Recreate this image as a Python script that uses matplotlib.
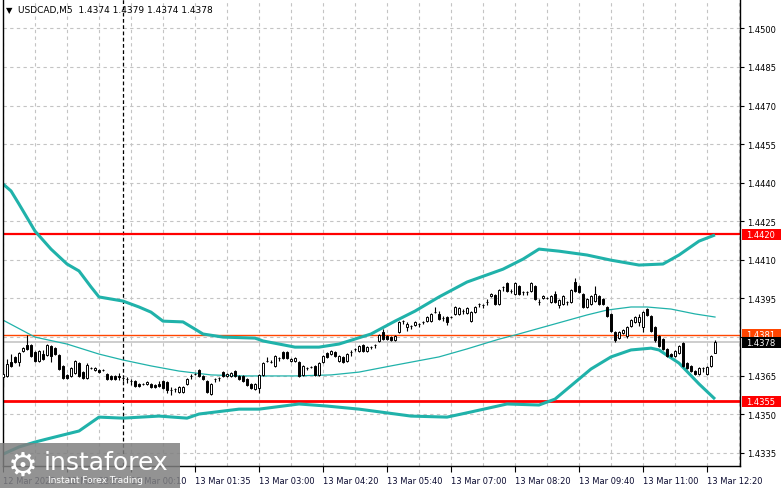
import matplotlib
matplotlib.use("Agg")
import matplotlib.pyplot as plt
from matplotlib.patches import Rectangle
import matplotlib.transforms as mtransforms

symbol = "USDCAD,M5"

opens = [
1.43645, 1.43649, 1.43703, 1.43723, 1.43703, 1.43746, 1.43769, 1.43769, 1.43742, 1.43707,
1.43734, 1.43730, 1.43765, 1.43757, 1.43730, 1.43688, 1.43653, 1.43649, 1.43660, 1.43699,
1.43664, 1.43641, 1.43680, 1.43672, 1.43672, 1.43672, 1.43656, 1.43649, 1.43649, 1.43649,
1.43641, 1.43637, 1.43629, 1.43629, 1.43618, 1.43618, 1.43618, 1.43618, 1.43614, 1.43618,
1.43629, 1.43625, 1.43594, 1.43598, 1.43586, 1.43586, 1.43618, 1.43649, 1.43656, 1.43672,
1.43649, 1.43629, 1.43579, 1.43637, 1.43641, 1.43664, 1.43649, 1.43649, 1.43668, 1.43649,
1.43649, 1.43637, 1.43618, 1.43598, 1.43602, 1.43653, 1.43707, 1.43703, 1.43688, 1.43719,
1.43742, 1.43742, 1.43707, 1.43707, 1.43703, 1.43653, 1.43680, 1.43684, 1.43688, 1.43653,
1.43703, 1.43738, 1.43734, 1.43742, 1.43707, 1.43723, 1.43707, 1.43742, 1.43754, 1.43746,
1.43769, 1.43746, 1.43761, 1.43769, 1.43785, 1.43820, 1.43804, 1.43800, 1.43789, 1.43820,
1.43862, 1.43839, 1.43843, 1.43847, 1.43851, 1.43859, 1.43862, 1.43862, 1.43897, 1.43890,
1.43874, 1.43878, 1.43878, 1.43890, 1.43890, 1.43901, 1.43894, 1.43862, 1.43897, 1.43929,
1.43925, 1.43936, 1.43960, 1.43963, 1.43929, 1.43995, 1.44010, 1.43979, 1.43967, 1.43998,
1.43975, 1.43975, 1.43979, 1.43998, 1.43936, 1.43952, 1.43952, 1.43936, 1.43967, 1.43925,
1.43929, 1.43936, 1.43936, 1.44014, 1.43998, 1.43967, 1.43917, 1.43929, 1.43940, 1.43960,
1.43948, 1.43917, 1.43890, 1.43820, 1.43796, 1.43816, 1.43804, 1.43843, 1.43859, 1.43859,
1.43839, 1.43909, 1.43882, 1.43839, 1.43804, 1.43792, 1.43754, 1.43734, 1.43726, 1.43738,
1.43777, 1.43699, 1.43688, 1.43668, 1.43656, 1.43680, 1.43656, 1.43688, 1.43740]

highs = [
1.43660, 1.43715, 1.43734, 1.43726, 1.43742, 1.43761, 1.43808, 1.43773, 1.43746, 1.43750,
1.43750, 1.43773, 1.43769, 1.43761, 1.43734, 1.43691, 1.43656, 1.43684, 1.43711, 1.43703,
1.43668, 1.43699, 1.43684, 1.43684, 1.43676, 1.43676, 1.43660, 1.43653, 1.43653, 1.43660,
1.43645, 1.43645, 1.43637, 1.43633, 1.43621, 1.43621, 1.43629, 1.43621, 1.43618, 1.43629,
1.43633, 1.43629, 1.43606, 1.43602, 1.43610, 1.43610, 1.43641, 1.43656, 1.43660, 1.43676,
1.43653, 1.43633, 1.43621, 1.43641, 1.43645, 1.43668, 1.43660, 1.43664, 1.43672, 1.43653,
1.43653, 1.43641, 1.43621, 1.43621, 1.43656, 1.43703, 1.43723, 1.43711, 1.43730, 1.43723,
1.43746, 1.43746, 1.43719, 1.43723, 1.43707, 1.43691, 1.43684, 1.43688, 1.43691, 1.43703,
1.43730, 1.43742, 1.43750, 1.43746, 1.43730, 1.43726, 1.43738, 1.43750, 1.43757, 1.43769,
1.43773, 1.43765, 1.43765, 1.43773, 1.43812, 1.43831, 1.43808, 1.43804, 1.43808, 1.43862,
1.43866, 1.43859, 1.43847, 1.43862, 1.43855, 1.43862, 1.43882, 1.43894, 1.43917, 1.43901,
1.43882, 1.43882, 1.43882, 1.43921, 1.43917, 1.43909, 1.43917, 1.43901, 1.43921, 1.43932,
1.43929, 1.43948, 1.43971, 1.43967, 1.43987, 1.43998, 1.44014, 1.43987, 1.44014, 1.44002,
1.43979, 1.43979, 1.44014, 1.44002, 1.43948, 1.43963, 1.43956, 1.43963, 1.43979, 1.43948,
1.43963, 1.43940, 1.43987, 1.44030, 1.44002, 1.43971, 1.43952, 1.43963, 1.43998, 1.43963,
1.43952, 1.43921, 1.43894, 1.43824, 1.43824, 1.43831, 1.43843, 1.43870, 1.43882, 1.43890,
1.43901, 1.43913, 1.43886, 1.43843, 1.43808, 1.43796, 1.43757, 1.43738, 1.43750, 1.43769,
1.43781, 1.43703, 1.43691, 1.43672, 1.43684, 1.43684, 1.43688, 1.43730, 1.43790]

lows = [
1.43606, 1.43645, 1.43684, 1.43699, 1.43688, 1.43742, 1.43750, 1.43723, 1.43703, 1.43703,
1.43711, 1.43726, 1.43703, 1.43730, 1.43672, 1.43637, 1.43637, 1.43645, 1.43656, 1.43645,
1.43637, 1.43637, 1.43676, 1.43668, 1.43660, 1.43668, 1.43633, 1.43633, 1.43633, 1.43633,
1.43629, 1.43621, 1.43614, 1.43606, 1.43606, 1.43614, 1.43614, 1.43602, 1.43602, 1.43606,
1.43598, 1.43583, 1.43575, 1.43586, 1.43583, 1.43583, 1.43614, 1.43637, 1.43653, 1.43645,
1.43633, 1.43583, 1.43575, 1.43625, 1.43629, 1.43645, 1.43645, 1.43645, 1.43645, 1.43633,
1.43625, 1.43610, 1.43598, 1.43594, 1.43583, 1.43649, 1.43703, 1.43699, 1.43684, 1.43707,
1.43715, 1.43715, 1.43703, 1.43703, 1.43645, 1.43649, 1.43672, 1.43680, 1.43649, 1.43649,
1.43699, 1.43719, 1.43730, 1.43723, 1.43703, 1.43699, 1.43703, 1.43726, 1.43746, 1.43742,
1.43742, 1.43742, 1.43754, 1.43757, 1.43781, 1.43789, 1.43789, 1.43785, 1.43785, 1.43816,
1.43851, 1.43824, 1.43831, 1.43843, 1.43839, 1.43851, 1.43859, 1.43859, 1.43894, 1.43866,
1.43862, 1.43847, 1.43874, 1.43886, 1.43886, 1.43890, 1.43890, 1.43859, 1.43894, 1.43917,
1.43913, 1.43925, 1.43956, 1.43925, 1.43925, 1.43979, 1.43975, 1.43971, 1.43963, 1.43963,
1.43963, 1.43963, 1.43975, 1.43944, 1.43925, 1.43948, 1.43948, 1.43932, 1.43932, 1.43913,
1.43925, 1.43925, 1.43932, 1.43975, 1.43971, 1.43913, 1.43913, 1.43925, 1.43936, 1.43925,
1.43925, 1.43878, 1.43820, 1.43781, 1.43792, 1.43812, 1.43796, 1.43839, 1.43855, 1.43843,
1.43820, 1.43882, 1.43820, 1.43781, 1.43761, 1.43750, 1.43723, 1.43723, 1.43723, 1.43734,
1.43684, 1.43676, 1.43664, 1.43653, 1.43653, 1.43664, 1.43653, 1.43684, 1.43740]

closes = [
1.43656, 1.43695, 1.43688, 1.43703, 1.43738, 1.43757, 1.43754, 1.43726, 1.43707, 1.43746,
1.43715, 1.43769, 1.43726, 1.43734, 1.43676, 1.43641, 1.43641, 1.43680, 1.43707, 1.43649,
1.43641, 1.43691, 1.43680, 1.43680, 1.43664, 1.43672, 1.43637, 1.43637, 1.43637, 1.43645,
1.43641, 1.43637, 1.43629, 1.43610, 1.43610, 1.43618, 1.43625, 1.43606, 1.43606, 1.43610,
1.43602, 1.43594, 1.43594, 1.43598, 1.43606, 1.43606, 1.43637, 1.43649, 1.43656, 1.43649,
1.43637, 1.43586, 1.43618, 1.43637, 1.43641, 1.43649, 1.43656, 1.43660, 1.43649, 1.43637,
1.43629, 1.43614, 1.43602, 1.43618, 1.43653, 1.43699, 1.43707, 1.43703, 1.43726, 1.43719,
1.43719, 1.43719, 1.43715, 1.43719, 1.43649, 1.43688, 1.43680, 1.43684, 1.43653, 1.43699,
1.43726, 1.43723, 1.43746, 1.43726, 1.43726, 1.43703, 1.43734, 1.43742, 1.43754, 1.43765,
1.43746, 1.43761, 1.43761, 1.43769, 1.43808, 1.43792, 1.43792, 1.43789, 1.43804, 1.43859,
1.43862, 1.43851, 1.43843, 1.43859, 1.43851, 1.43859, 1.43878, 1.43890, 1.43897, 1.43870,
1.43874, 1.43859, 1.43878, 1.43917, 1.43913, 1.43901, 1.43913, 1.43897, 1.43917, 1.43929,
1.43925, 1.43936, 1.43967, 1.43929, 1.43983, 1.43995, 1.43979, 1.43979, 1.44010, 1.43967,
1.43975, 1.43975, 1.44010, 1.43948, 1.43936, 1.43960, 1.43952, 1.43960, 1.43936, 1.43944,
1.43960, 1.43936, 1.43983, 1.43979, 1.43975, 1.43917, 1.43948, 1.43960, 1.43967, 1.43929,
1.43929, 1.43882, 1.43824, 1.43789, 1.43820, 1.43827, 1.43839, 1.43866, 1.43878, 1.43878,
1.43897, 1.43886, 1.43824, 1.43789, 1.43765, 1.43754, 1.43726, 1.43726, 1.43746, 1.43765,
1.43688, 1.43680, 1.43668, 1.43656, 1.43680, 1.43680, 1.43684, 1.43726, 1.43780]

# Bollinger band lines (bar index, price)
upper_bar = [0, 2, 4, 8, 12, 16, 19, 22, 24, 30, 34, 37, 40, 45, 48, 50, 55, 63, 65, 73,
             79, 84, 92, 98, 103, 109, 116, 125, 130, 134, 139, 146, 152, 159, 165, 169, 174, 178]
upper_val = [1.44395, 1.44368, 1.44317, 1.44212, 1.44142, 1.44084, 1.44057, 1.43995, 1.43956, 1.43940,
             1.43917, 1.43897, 1.43862, 1.43859, 1.43831, 1.43812, 1.43800, 1.43796, 1.43785, 1.43761,
             1.43761, 1.43773, 1.43812, 1.43862, 1.43901, 1.43956, 1.44014, 1.44064, 1.44103, 1.44142,
             1.44134, 1.44119, 1.44099, 1.44080, 1.44084, 1.44119, 1.44173, 1.44197]
mid_bar = [0, 8, 16, 24, 30, 37, 44, 52, 60, 73, 82, 89, 97, 109, 116, 124, 128, 137, 146, 151,
           157, 161, 167, 173, 178]
mid_val = [1.43866, 1.43800, 1.43773, 1.43734, 1.43711, 1.43688, 1.43668, 1.43653, 1.43649, 1.43649,
           1.43653, 1.43664, 1.43688, 1.43723, 1.43754, 1.43792, 1.43808, 1.43847, 1.43886, 1.43905,
           1.43917, 1.43917, 1.43909, 1.43890, 1.43878]
lower_bar = [0, 4, 8, 11, 19, 24, 30, 39, 46, 49, 59, 64, 74, 81, 89, 102, 111, 117, 126, 134,
             138, 141, 144, 147, 152, 157, 162, 164, 169, 174, 178]
lower_val = [1.43345, 1.43373, 1.43392, 1.43404, 1.43435, 1.43489, 1.43485, 1.43493, 1.43485, 1.43501,
             1.43520, 1.43520, 1.43540, 1.43532, 1.43520, 1.43493, 1.43489, 1.43509, 1.43540, 1.43536,
             1.43559, 1.43598, 1.43637, 1.43676, 1.43723, 1.43750, 1.43757, 1.43750, 1.43699, 1.43618,
             1.43559]

levels = [1.4420, 1.4381, 1.4355]
level_colors = ["#FF0000", "#FF4500", "#FF0000"]
level_widths = [1.6, 1.0, 2.0]

y_ticks = [1.4335, 1.4350, 1.4365, 1.4380, 1.4395, 1.4410, 1.4425, 1.4440, 1.4455, 1.4470, 1.4485, 1.4500]
x_tick_bars = [0, 16, 32, 48, 64, 80, 96, 112, 128, 144, 160, 176]
x_tick_labels = ["12 Mar 2025", "12 Mar 22:50", "13 Mar 00:10", "13 Mar 01:35", "13 Mar 03:00",
                 "13 Mar 04:20", "13 Mar 05:40", "13 Mar 07:00", "13 Mar 08:20", "13 Mar 09:40",
                 "13 Mar 11:00", "13 Mar 12:20"]
grid_minor_bars = [8, 24, 40, 56, 72, 88, 104, 120, 136, 152, 168, 184]
day_separator_bar = 30

W, H = 781, 489
fig = plt.figure(figsize=(W / 100, H / 100), dpi=100)
fig.patch.set_facecolor("white")
ax = fig.add_axes([3 / W, 1 - 467 / H, 737 / W, 467 / H])
y_lo, y_hi = 1.43299, 1.45114
ax.set_xlim(0, 184.25)
ax.set_ylim(y_lo, y_hi)

teal = "#20B2AA"
grid_kw = dict(color="#C4C4C4", linestyle=(0, (3, 3)), linewidth=0.8)

# grid
ax.set_xticks(x_tick_bars)
ax.set_xticks(grid_minor_bars, minor=True)
ax.set_xticklabels(x_tick_labels)
for lbl in ax.get_xticklabels():
    lbl.set_horizontalalignment("left")
ax.set_yticks(y_ticks)
ax.set_yticklabels([f"{v:.4f}" for v in y_ticks])
ax.grid(True, which="both", axis="x", **grid_kw)
ax.grid(True, which="major", axis="y", **grid_kw)
ax.set_axisbelow(True)

ax.yaxis.tick_right()
ax.tick_params(axis="y", which="major", direction="out", length=3, width=0.8, pad=2,
               labelsize=6, colors="black")
ax.tick_params(axis="x", which="major", direction="out", length=4, width=0.8, pad=3,
               labelsize=6, labelcolor="#0a0a30")
ax.tick_params(axis="x", which="minor", length=0)
ax.spines["top"].set_visible(False)
for s in ("left", "right", "bottom"):
    ax.spines[s].set_color("black")
    ax.spines[s].set_linewidth(1.0)

# day separator
ax.axvline(day_separator_bar, color="black", linewidth=0.9, linestyle=(0, (3, 2)), zorder=2)

# levels
for lv, col, lw in zip(levels, level_colors, level_widths):
    ax.axhline(lv, color=col, linewidth=lw, zorder=2.2)
# current price line
ax.axhline(closes[-1], color="#C0C0C0", linewidth=1.1, zorder=1.5)

# bands
ax.plot(upper_bar, upper_val, color=teal, linewidth=2.2, zorder=2.5, solid_capstyle="butt")
ax.plot(lower_bar, lower_val, color=teal, linewidth=2.2, zorder=2.5, solid_capstyle="butt")
ax.plot(mid_bar, mid_val, color=teal, linewidth=0.9, zorder=2.5)

# candles
xs = list(range(len(opens)))
ax.vlines(xs, lows, highs, color="black", linewidth=0.8, zorder=3)
for x, o, c in zip(xs, opens, closes):
    fc = "white" if c >= o else "black"
    ax.bar(x, abs(c - o), bottom=min(o, c), width=0.6, facecolor=fc,
           edgecolor="black", linewidth=0.7, zorder=4)

# price boxes on right axis
trans = mtransforms.blended_transform_factory(ax.transAxes, ax.transData)
px = (y_hi - y_lo) / 467.0
box_h = 11 * px
boxes = [(levels[0], "#FF0000"), (levels[1], "#FF4500"), (closes[-1], "black"), (levels[2], "#FF0000")]
for k, (val, col) in enumerate(boxes):
    ax.add_patch(Rectangle((1.0 + 1.5 / 737, val - box_h / 2), 40 / 737, box_h, transform=trans,
                           facecolor=col, edgecolor="none", clip_on=False, zorder=10 + k))
    ax.text(1.0 + 6 / 737, val, f"{val:.4f}", transform=trans, color="white", fontsize=6,
            va="center", ha="left", clip_on=False, zorder=10.5 + k)

# header
fig.text(6 / W, 1 - 11 / H, "▼", fontsize=6, va="center", ha="left", color="black")
fig.text(18 / W, 1 - 11 / H,
         f"{symbol}  {opens[-1]:.4f} {highs[-1]:.4f} {lows[-1]:.4f} {closes[-1]:.4f}",
         fontsize=6.5, va="center", ha="left", color="black")

# watermark
fig.add_artist(Rectangle((0, 0), 180 / W, 45 / H, transform=fig.transFigure,
                         facecolor="#808080", edgecolor="none", alpha=0.85, zorder=20))
fig.text(23 / W, 1 - 466 / H, "⚙", fontsize=24, ha="center", va="center", color="white", zorder=21)
fig.text(44 / W, 1 - 463 / H, "instaforex", fontsize=18, ha="left", va="center", color="white", zorder=21)
fig.text(48 / W, 1 - 481 / H, "Instant Forex Trading", fontsize=6.5, ha="left", va="center",
         color="white", zorder=21)

fig.savefig("out.png", dpi=100, facecolor="white")
